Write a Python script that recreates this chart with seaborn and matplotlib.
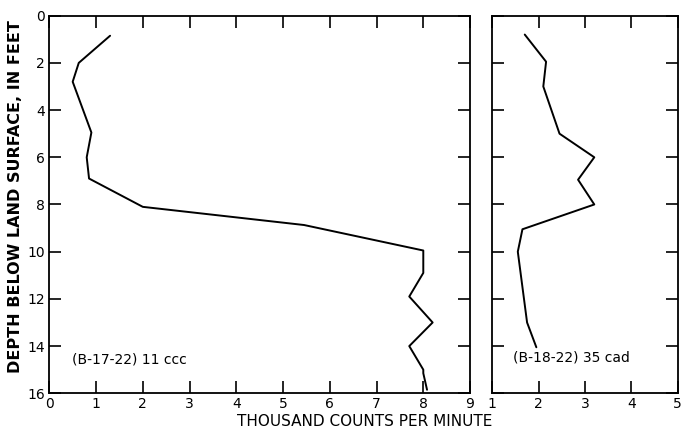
import matplotlib
matplotlib.use("Agg")
import matplotlib.pyplot as plt
import seaborn as sns
import pandas as pd

# Left well (B-17-22) 11 ccc
left_counts = [1.3, 0.63, 0.5, 0.9, 0.8, 0.85, 2.0, 5.45, 8.0, 8.0, 7.7, 8.2, 7.7, 8.0, 8.0, 8.08]
left_depth = [0.85, 2.0, 2.8, 4.95, 6.0, 6.9, 8.1, 8.87, 9.95, 10.9, 11.9, 13.0, 14.0, 15.0, 15.15, 15.85]
# Right well (B-18-22) 35 cad
right_counts = [1.7, 2.16, 2.1, 2.45, 3.2, 2.85, 3.2, 1.65, 1.55, 1.75, 1.95]
right_depth = [0.8, 1.95, 3.0, 5.0, 6.0, 6.95, 8.0, 9.05, 10.0, 13.0, 14.05]

left_label = "(B-17-22) 11 ccc"
right_label = "(B-18-22) 35 cad"
xlabel = "THOUSAND COUNTS PER MINUTE"
ylabel = "DEPTH BELOW LAND SURFACE, IN FEET"
depth_ticks = [0, 2, 4, 6, 8, 10, 12, 14, 16]
left_xticks = [0, 1, 2, 3, 4, 5, 6, 7, 8, 9]
right_xticks = [1, 2, 3, 4, 5]

sns.set_style("ticks")
plt.rcParams['font.family'] = ['DejaVu Sans']
plt.rcParams['text.color'] = 'black'

fig = plt.figure(figsize=(6.83, 4.32), dpi=100)
ax1 = fig.add_axes([0.0722, 0.0896, 0.616, 0.8741])
ax2 = fig.add_axes([0.7208, 0.0896, 0.2715, 0.8741])

dfl = pd.DataFrame({"counts": left_counts, "depth": left_depth})
dfr = pd.DataFrame({"counts": right_counts, "depth": right_depth})

sns.lineplot(data=dfl, x="counts", y="depth", sort=False, orient="y", estimator=None,
             color="black", lw=1.4, ax=ax1)
sns.lineplot(data=dfr, x="counts", y="depth", sort=False, orient="y", estimator=None,
             color="black", lw=1.4, ax=ax2)

for ax, xt, xl in [(ax1, left_xticks, (0, 9)), (ax2, right_xticks, (1, 5))]:
    ax.set_xlim(*xl)
    ax.set_ylim(16, 0)
    ax.set_xticks(xt)
    ax.set_yticks(depth_ticks)
    ax.set_xlabel("")
    ax.set_ylabel("")
    for s in ax.spines.values():
        s.set_visible(True)
        s.set_linewidth(1.3)
        s.set_color("black")
    ax.tick_params(axis="both", direction="in", length=8.5, width=1.2, color="black",
                   top=True, bottom=True, left=True, right=True, labelsize=10,
                   labelcolor="black")
    ax.tick_params(axis="x", pad=3)
    ax.tick_params(axis="y", pad=3)

ax2.tick_params(axis="y", labelleft=False)

ax1.text(0.48, 14.55, left_label, ha="left", va="center", fontsize=10, color="black")
ax2.text(1.45, 14.5, right_label, ha="left", va="center", fontsize=10, color="black")

fig.text(0.534, 0.025, xlabel, ha="center", va="center", fontsize=11, color="black")
fig.text(0.022, 0.544, ylabel, ha="center", va="center", rotation=90, fontsize=11.5,
         fontweight="bold", color="black")

fig.savefig("out.png", dpi=100, facecolor="white")
